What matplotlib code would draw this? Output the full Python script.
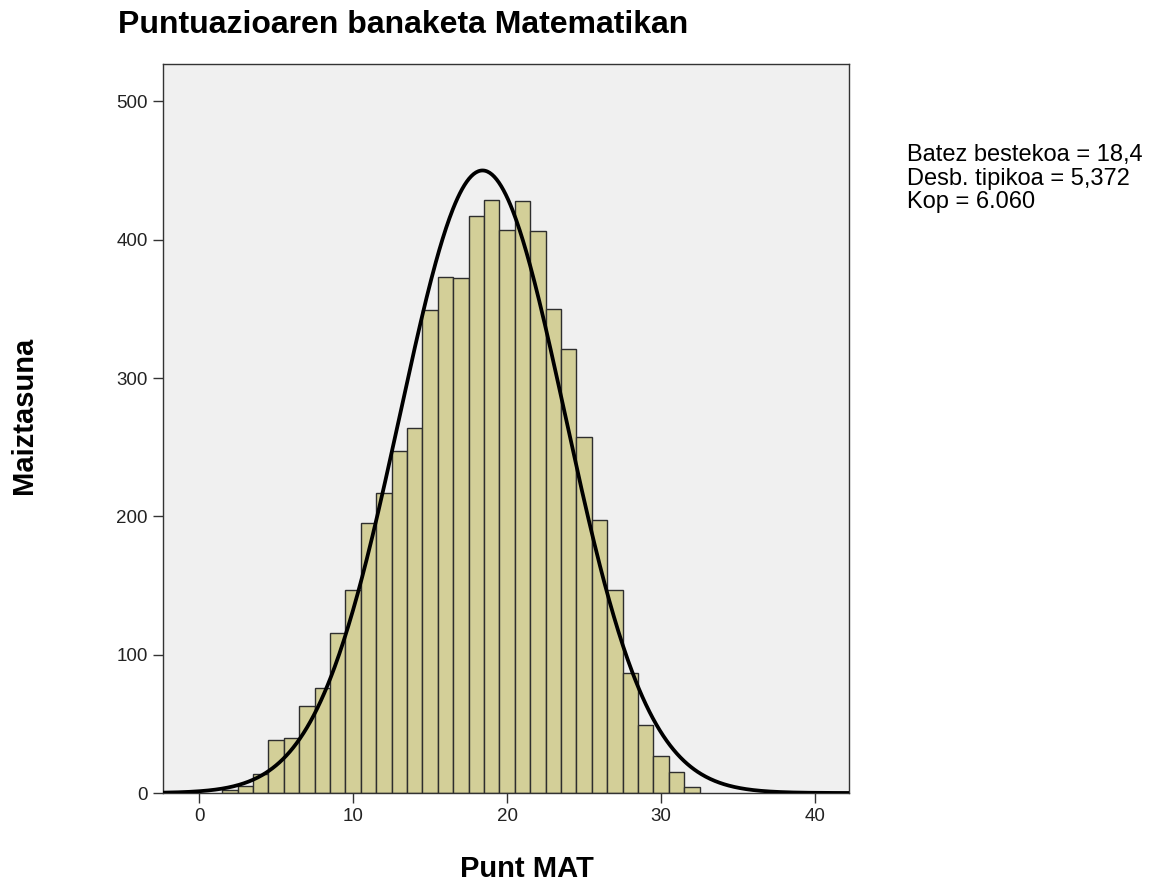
import numpy as np
import matplotlib
matplotlib.use("Agg")
import matplotlib.pyplot as plt

plt.rcParams['font.family'] = ['Liberation Sans', 'DejaVu Sans']

# Histogram data: bin centers (width 1) and frequencies
bin_centers = [2, 3, 4, 5, 6, 7, 8, 9, 10, 11, 12, 13, 14, 15, 16, 17, 18, 19, 20,
               21, 22, 23, 24, 25, 26, 27, 28, 29, 30, 31, 32]
frequencies = [2, 5, 14, 38, 40, 63, 76, 116, 147, 195, 217, 247, 264, 349, 373, 372,
               417, 429, 407, 428, 406, 350, 321, 257, 197, 147, 87, 49, 27, 15, 4]

mean_val = 18.4
std_val = 5.372
n_val = 6060
stats_lines = ["Batez bestekoa = 18,4", "Desb. tipikoa = 5,372", "Kop = 6.060"]

x_ticks = [0, 10, 20, 30, 40]
y_ticks = [0, 100, 200, 300, 400, 500]

W, H = 1157, 881
fig = plt.figure(figsize=(W/100, H/100), dpi=100)
ax = fig.add_axes([163/W, 1 - 793/H, (849-163)/W, (793-64)/H])
ax.set_facecolor('#F0F0F0')

ax.bar(bin_centers, frequencies, width=1.0, color='#D3CF98', edgecolor='#2E2E2E',
       linewidth=1.0, zorder=2)

xs = np.linspace(-2.4, 42.3, 600)
ys = n_val * 1.0 / (std_val * np.sqrt(2 * np.pi)) * np.exp(-0.5 * ((xs - mean_val) / std_val) ** 2)
ax.plot(xs, ys, color='black', linewidth=2.7, zorder=3, solid_capstyle='butt')

ax.set_xlim(-2.35, 42.2)
ax.set_ylim(0, 527)
ax.set_xticks(x_ticks)
ax.set_yticks(y_ticks)
ax.tick_params(axis='both', direction='out', length=7.5, width=1, labelsize=13.5,
               colors='#333333', labelcolor='#222222', pad=3.5)
for s in ax.spines.values():
    s.set_color('#333333')
    s.set_linewidth(1.0)

fig.text(527/W, 1 - 877/H, 'Punt MAT', fontsize=21, fontweight='bold',
         ha='center', va='baseline')
fig.text(32/W, 1 - 415/H, 'Maiztasuna', rotation=90, rotation_mode='anchor',
         fontsize=21, fontweight='bold', ha='center', va='baseline')
fig.text(118/W, 1 - 33/H, 'Puntuazioaren banaketa Matematikan', fontsize=23,
         fontweight='bold', ha='left', va='baseline')
for i, line in enumerate(stats_lines):
    fig.text(907/W, 1 - (161 + 23.5 * i)/H, line, fontsize=17, ha='left',
             va='baseline')

fig.savefig('out.png', dpi=100)
